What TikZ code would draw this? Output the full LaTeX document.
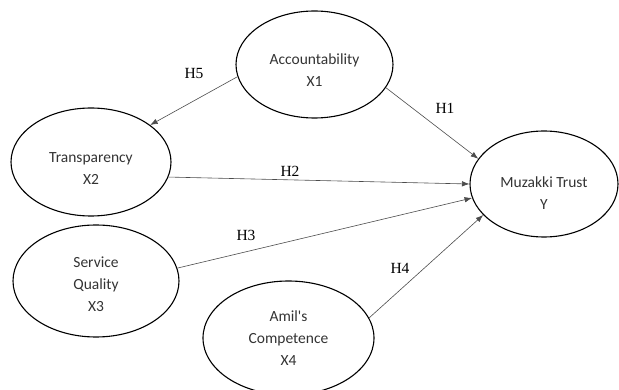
\documentclass[tikz,border=0pt]{standalone}
\usepackage{fontspec}
\setmainfont{Liberation Serif}
\newfontfamily\calfont{Carlito}
\usetikzlibrary{shapes.geometric,arrows.meta}

\begin{document}
\begin{tikzpicture}[>={Latex[length=7.5pt,width=5.5pt]},x=1pt,y=-1pt,
  var/.style={ellipse,draw=black,line width=1.1pt,inner sep=0pt,align=center,
    text=black!80,font=\calfont\fontsize{15.5}{22}\selectfont},
  link/.style={->,draw=black!70,line width=0.6pt},
  hyp/.style={font=\fontsize{15.5}{18}\selectfont}]

% Frame (pixel coordinates, y downwards)
\useasboundingbox (0,0) rectangle (619,390);

% Latent variables
\node[var,minimum width=157pt,minimum height=107pt,text height=45pt] (acc) at (314.5,64.5) {Accountability\\X1};
\node[var,minimum width=160pt,minimum height=108pt,text height=45pt] (trans) at (91,162) {Transparency\\X2};
\node[var,minimum width=166pt,minimum height=112pt,text height=61pt] (serv) at (96,281) {Service\\Quality\\X3};
\node[var,minimum width=171pt,minimum height=114pt] (amil) at (288.5,338) {Amil's\\Competence\\X4};
\node[var,minimum width=148pt,minimum height=106pt,text height=52pt] (trust) at (544,184) {Muzakki Trust\\Y};

% Paths
\draw[link] (acc.189) -- (trans.32);
\draw[link] (acc.342) -- (trust.159);
\draw[link] (trans.349) -- (trust.180);
\draw[link] (serv.9) -- (trust.191);
\draw[link] (amil.14) -- (trust.207);

% Hypotheses
\node[hyp] (h5) at (194,74) {H5};
\node[hyp] (h1) at (445,108) {H1};
\node[hyp] (h2) at (290,171) {H2};
\node[hyp] (h3) at (246,235) {H3};
\node[hyp] (h4) at (400,268) {H4};

\end{tikzpicture}
\end{document}
